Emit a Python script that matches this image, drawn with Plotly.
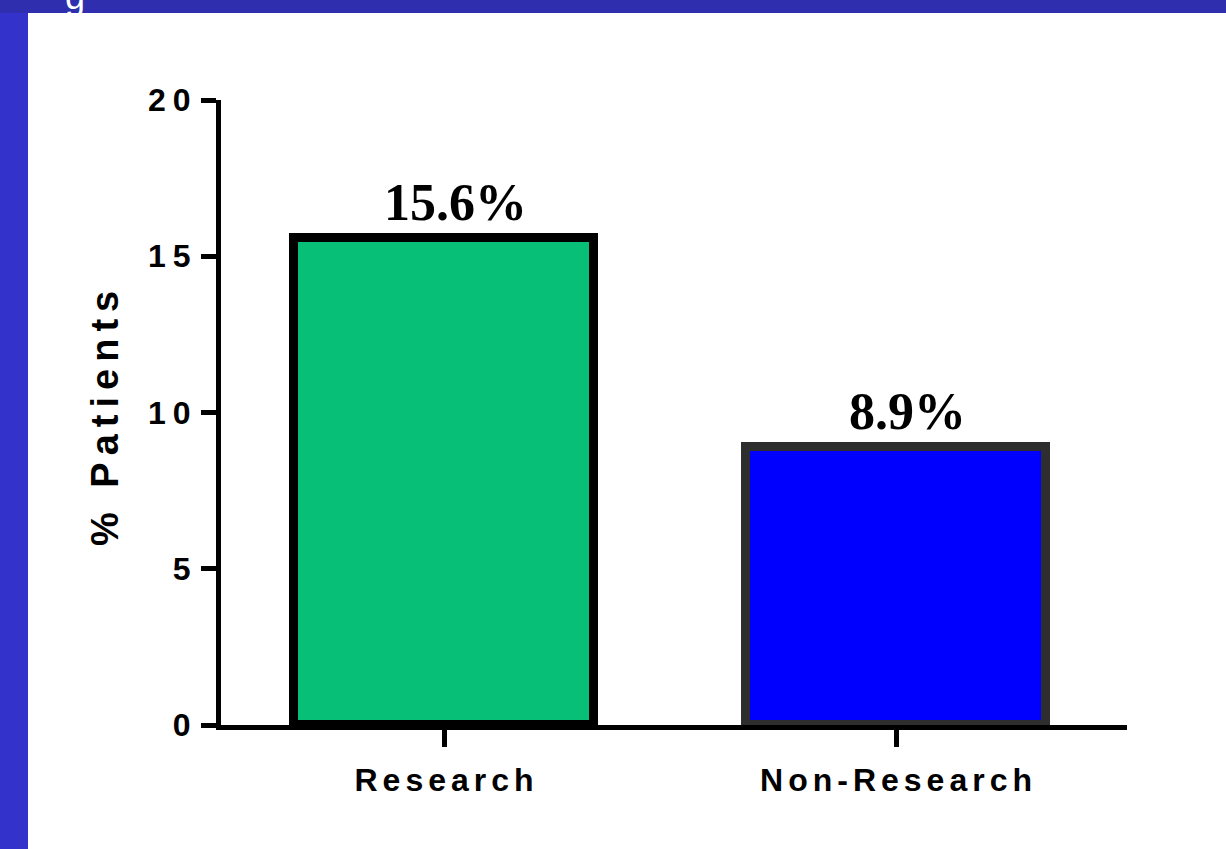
import plotly.graph_objects as go

# ---- data ----
categories = ["Research", "Non-Research"]
values = [15.6, 8.9]
bar_colors = ["#08BF78", "#0000FF"]
edge_colors = ["#000000", "#2E2E2E"]
y_ticks = [0, 5, 10, 15, 20]
y_title = "% Patients"
slide_title_fragment = "g"

W, H = 1226, 849
L, R, T, B = 221, 99, 100, 124
PW, PH = W - L - R, H - T - B


def px_x(p):
    return (p - L) / PW


def px_y(p):
    return (H - B - p) / PH


def spaced(text, ls):
    # letter spacing between characters, no trailing space after the last one
    if len(text) < 2:
        return text
    return f'<span style="letter-spacing:{ls}px">{text[:-1]}</span>{text[-1]}'


fig = go.Figure(
    go.Bar(
        x=categories,
        y=values,
        width=0.664,
        marker=dict(color=bar_colors, line=dict(color=edge_colors, width=9)),
        hoverinfo="skip",
    )
)

# value labels
for c, v in zip(categories, values):
    fig.add_annotation(
        x=c, y=v, xref="x", yref="y", text=f"{v}%", showarrow=False,
        yanchor="bottom", xanchor="center", xshift=11, yshift=5,
        font=dict(family="Liberation Serif", size=52, color="black", weight="bold"),
    )

# y-axis title
fig.add_annotation(
    xref="paper", yref="paper", x=px_x(105), y=px_y(419),
    text=spaced(y_title, 7), textangle=-90, showarrow=False,
    xanchor="center", yanchor="middle",
    font=dict(family="Liberation Sans", size=38, color="black", weight="bold"),
)

# slide background bands
fig.add_shape(type="rect", xref="paper", yref="paper",
              x0=px_x(-5), x1=px_x(W + 5), y0=px_y(13), y1=px_y(-5),
              fillcolor="#2E2EAE", line=dict(width=0), layer="above")
fig.add_shape(type="rect", xref="paper", yref="paper",
              x0=px_x(-5), x1=px_x(28), y0=px_y(H + 5), y1=px_y(13),
              fillcolor="#3333CC", line=dict(width=0), layer="above")
fig.add_annotation(
    xref="paper", yref="paper", x=px_x(75), y=px_y(19),
    text=slide_title_fragment, showarrow=False, xanchor="center", yanchor="bottom",
    font=dict(family="Liberation Sans", size=36, color="white"),
)

fig.update_layout(
    width=W, height=H,
    margin=dict(l=L, r=R, t=T, b=B, pad=0),
    plot_bgcolor="white", paper_bgcolor="white",
    showlegend=False,
    bargap=0,
    xaxis=dict(
        range=[-0.4934, 1.511],
        tickvals=categories,
        ticktext=[spaced(c, 5) for c in categories],
        showline=True, linewidth=5, linecolor="black",
        ticks="outside", ticklen=17, tickwidth=5, tickcolor="black",
        tickfont=dict(family="Liberation Sans", size=32, color="black", weight="bold"),
        ticklabelstandoff=6,
        showgrid=False, zeroline=False,
    ),
    yaxis=dict(
        range=[0, 20],
        tickvals=y_ticks,
        ticktext=[spaced(str(t), 7) for t in y_ticks],
        showline=True, linewidth=5, linecolor="black",
        ticks="outside", ticklen=15, tickwidth=5, tickcolor="black",
        tickfont=dict(family="Liberation Sans", size=32, color="black", weight="bold"),
        ticklabelstandoff=4,
        showgrid=False, zeroline=False,
    ),
)

fig.write_html("out.html")
